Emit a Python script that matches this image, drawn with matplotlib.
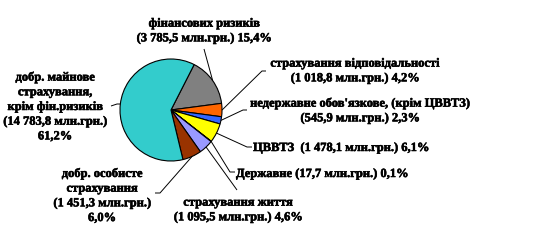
import numpy as np
import matplotlib.pyplot as plt
import matplotlib.patheffects as pe

# insurance lines, clockwise from the top of the pie
names = ['фінансових ризиків',
         'страхування відповідальності',
         "недержавне обов'язкове, (крім ЦВВТЗ)",
         'ЦВВТЗ ',
         'Державне',
         'страхування життя',
         'добр. особисте\nстрахування',
         'добр. майнове\nстрахування,\nкрім фін.ризиків']
amounts = ['3 785,5', '1 018,8', '545,9', '1 478,1', '17,7', '1 095,5', '1 451,3', '14 783,8']
shares = [15.4, 4.2, 2.3, 6.1, 0.1, 4.6, 6.0, 61.2]
colors = ['#808080', '#FF6600', '#3366FF', '#FFFF00', '#CCFFFF', '#9999FF', '#993300', '#33CCCC']

W, H = 544, 244
fig = plt.figure(figsize=(W / 100, H / 100), dpi=100)
ax = fig.add_axes([0, 0, 1, 1])
ax.axis('off')

cx, cy, r = 171, H - 110, 51
wedges, _ = ax.pie(shares, colors=colors, startangle=63, counterclock=False,
                   center=(cx, cy), radius=r,
                   wedgeprops=dict(edgecolor='black', linewidth=0.8))
ax.set_xlim(0, W)
ax.set_ylim(0, H)
ax.set_aspect('equal')

font = dict(family='Liberation Serif', weight='bold', fontsize=9, linespacing=1.3,
            path_effects=[pe.withStroke(linewidth=0.4, foreground='black')])

def pct(v):
    return f'{v:.1f}%'.replace('.', ',')

texts = [
    f'{names[0]}\n({amounts[0]} млн.грн.) {pct(shares[0])}',
    f'{names[1]}\n({amounts[1]} млн.грн.) {pct(shares[1])}',
    f'{names[2]}\n({amounts[2]} млн.грн.) {pct(shares[2])}',
    f'{names[3]} ({amounts[3]} млн.грн.) {pct(shares[3])}',
    f'{names[4]} ({amounts[4]} млн.грн.) {pct(shares[4])}',
    f'{names[5]}\n({amounts[5]} млн.грн.) {pct(shares[5])}',
    f'{names[6]}\n({amounts[6]} млн.грн.)\n{pct(shares[6])}',
    f'{names[7]}\n({amounts[7]} млн.грн.)\n{pct(shares[7])}',
]

# label anchor (image px), alignment, leader bend points (image px)
layout = [
    ((204, 31), 'center', [(204, 49)]),
    ((355, 71), 'center', [(266, 71), (262, 71)]),
    ((360, 111), 'center', [(247, 110), (243, 110)]),
    ((253, 148), 'left', [(252, 147), (247, 147)]),
    ((236, 174), 'left', [(235, 172), (230, 172)]),
    ((238, 210), 'center', [(237, 190)]),
    ((102, 196), 'center', [(155, 193), (160, 193)]),
    ((55, 107), 'center', [(111, 106), (117, 104)]),
]

for w, txt, (pos, ha, pts) in zip(wedges, texts, layout):
    ang = np.deg2rad((w.theta1 + w.theta2) / 2)
    ex, ey = cx + r * np.cos(ang), cy + r * np.sin(ang)
    xs = [p[0] for p in pts] + [ex]
    ys = [H - p[1] for p in pts] + [ey]
    ax.plot(xs, ys, color='black', linewidth=0.7, solid_capstyle='butt')
    ax.text(pos[0], H - pos[1], txt, ha=ha, va='center', multialignment='center', **font)

fig.savefig('out.png', dpi=100)
